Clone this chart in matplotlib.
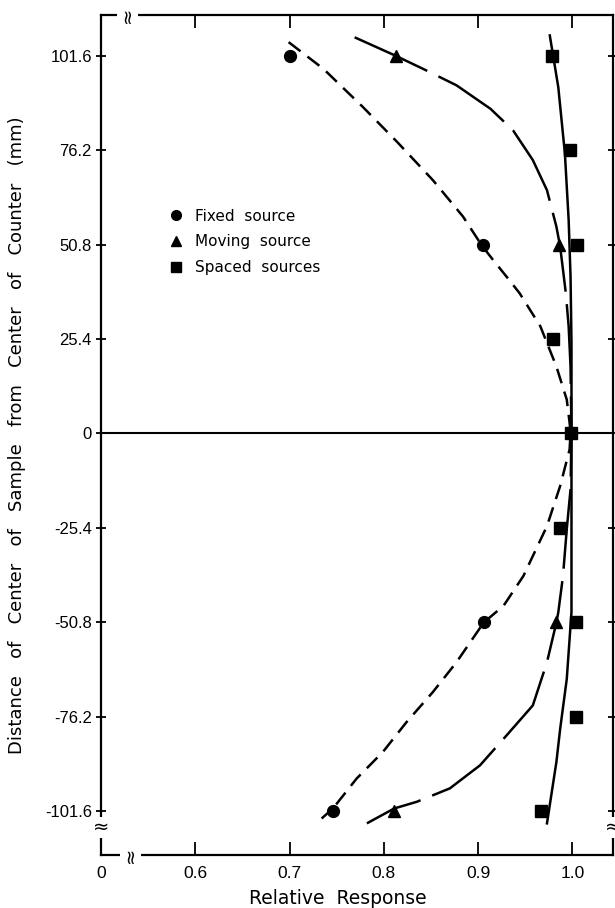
import matplotlib
matplotlib.use("Agg")
import matplotlib.pyplot as plt
from matplotlib.lines import Line2D

plt.rcParams['font.family'] = ['Liberation Sans', 'DejaVu Sans']

# measured points (relative response, distance in mm)
fixed_x = [0.700, 0.905, 0.906, 0.746]
fixed_y = [101.6, 50.8, -50.8, -101.6]
moving_x = [0.813, 0.986, 0.983, 0.811]
moving_y = [101.6, 50.8, -50.8, -101.6]
spaced_x = [0.978, 0.997, 1.005, 0.979, 0.998, 0.987, 1.004, 1.004, 0.967]
spaced_y = [101.6, 76.2, 50.8, 25.4, 0.0, -25.4, -50.8, -76.2, -101.6]

# hand-drawn fitted curves
fixed_curve_x = [0.699, 0.736, 0.778, 0.814, 0.852, 0.884, 0.904, 0.916, 0.930, 0.944,
                 0.966, 0.983, 0.994, 0.997, 0.998,
                 0.997, 0.987, 0.973, 0.948, 0.927, 0.906, 0.877, 0.852, 0.824,
                 0.799, 0.771, 0.746, 0.734]
fixed_curve_y = [105.2, 98.0, 87.7, 78.4, 68.1, 58.3, 50.5, 46.6, 42.2, 37.7,
                 28.8, 18.0, 9.1, 2.9, 0.0,
                 -4.3, -14.1, -24.9, -38.3, -46.3, -50.8, -61.5, -69.5, -77.6,
                 -85.6, -92.8, -100.8, -103.5]
moving_curve_x = [0.769, 0.812, 0.845, 0.877, 0.913, 0.937, 0.958, 0.973, 0.983,
                  0.987, 0.990, 0.993, 0.996, 0.998, 0.999,
                  0.998, 0.994, 0.990, 0.985, 0.983, 0.973, 0.958, 0.930, 0.902,
                  0.870, 0.835, 0.811, 0.782]
moving_curve_y = [106.5, 101.6, 97.6, 93.6, 87.3, 81.5, 73.5, 65.4, 55.6,
                  50.2, 44.0, 37.7, 28.8, 18.0, 0.0,
                  -15.0, -25.7, -38.3, -48.1, -50.8, -61.5, -73.1, -81.2, -89.2,
                  -95.4, -99.0, -100.8, -104.8]
spaced_curve_x = [0.976, 0.985, 0.992, 0.996, 0.998, 0.999, 0.999,
                  0.999, 0.999, 0.999, 0.994, 0.987, 0.983, 0.973]
spaced_curve_y = [107.0, 93.1, 75.3, 57.4, 42.2, 24.3, 0.0,
                  -24.9, -39.1, -48.0, -66.0, -79.4, -88.3, -104.8]

yticks = [101.6, 76.2, 50.8, 25.4, 0, -25.4, -50.8, -76.2, -101.6]
ytick_labels = ['101.6', '76.2', '50.8', '25.4', '0', '-25.4', '-50.8', '-76.2', '-101.6']
xticks = [0.5, 0.6, 0.7, 0.8, 0.9, 1.0]
xtick_labels = ['0', '0.6', '0.7', '0.8', '0.9', '1.0']

fig = plt.figure(figsize=(6.15, 9.08), dpi=100)
ax = fig.add_axes([0.1642, 0.0584, 0.8325, 0.9251])

ax.plot(fixed_curve_x, fixed_curve_y, color='black', lw=1.8, dashes=(6, 3.5))
ax.plot(moving_curve_x, moving_curve_y, color='black', lw=1.8, dashes=(32, 5))
ax.plot(spaced_curve_x, spaced_curve_y, color='black', lw=1.8)

ax.plot(fixed_x, fixed_y, 'o', color='black', ms=8.5, ls='none')
ax.plot(moving_x, moving_y, '^', color='black', ms=9, ls='none')
ax.plot(spaced_x, spaced_y, 's', color='black', ms=8, ls='none')

ax.axhline(0, color='black', lw=1.5)

ax.set_xlim(0.5, 1.043)
ax.set_ylim(-113.3, 112.5)
ax.set_xticks(xticks)
ax.set_xticklabels(xtick_labels)
ax.set_yticks(yticks)
ax.set_yticklabels(ytick_labels)
ax.tick_params(axis='x', direction='in', length=9.5, width=1.3, top=True,
               labelsize=12.5, pad=8)
ax.tick_params(axis='y', direction='inout', length=7, width=1.3, right=True,
               labelsize=12, pad=3)
# no tick at the broken origin
ax.xaxis.get_major_ticks()[0].tick1line.set_visible(False)
ax.xaxis.get_major_ticks()[0].tick2line.set_visible(False)
for sp in ax.spines.values():
    sp.set_linewidth(1.6)

ax.set_xlabel('Relative  Response', fontsize=13.5, family='DejaVu Sans')
ax.xaxis.set_label_coords(0.463, -0.041)
ax.set_ylabel('Distance   of   Center   of   Sample   from   Center   of   Counter   (mm)',
              fontsize=13, family='DejaVu Sans')
ax.yaxis.set_label_coords(-0.146, 0.5)

# axis break marks
brk = dict(fontsize=14, ha='center', va='center', color='black',
           family='DejaVu Sans', clip_on=False,
           bbox=dict(boxstyle='square,pad=0.05', fc='white', ec='none'))
ax.text(0.531, -113.3, '\u2248', rotation=90, **brk)
ax.text(0.528, 112.5, '\u2248', rotation=90, **brk)
ax.text(0.5, -105.8, '\u2248', **brk)
ax.text(1.043, -105.8, '\u2248', **brk)

handles = [Line2D([], [], marker='o', color='black', ls='none', ms=7),
           Line2D([], [], marker='^', color='black', ls='none', ms=7),
           Line2D([], [], marker='s', color='black', ls='none', ms=7)]
ax.legend(handles, ['Fixed  source', 'Moving  source', 'Spaced  sources'],
          loc='upper left', bbox_to_anchor=(0.267, 0.777),
          bbox_transform=fig.transFigure, frameon=False,
          prop={'family': 'DejaVu Sans', 'size': 11},
          handlelength=0.8, handletextpad=0.8, labelspacing=0.7,
          borderaxespad=0)

fig.savefig('out.png', dpi=100)
